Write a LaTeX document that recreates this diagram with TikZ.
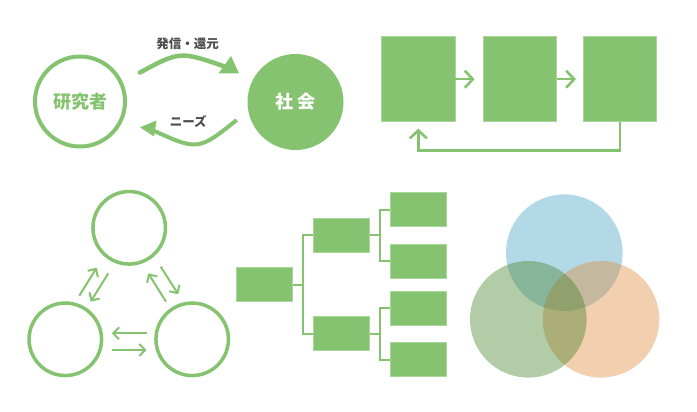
\documentclass[tikz,border=0pt]{standalone}
\usepackage{fontspec}
\newfontfamily\jp{Noto Sans CJK JP}
\usetikzlibrary{arrows.meta}
\definecolor{gr}{HTML}{86C371}
\definecolor{grl}{HTML}{A9D69A}
\definecolor{txt}{HTML}{4D4D4D}
\definecolor{vblue}{RGB}{65,160,192}
\definecolor{vorange}{RGB}{222,135,52}
\definecolor{vgreen}{RGB}{65,127,37}
\tikzset{
  bigbox/.style={fill=gr, draw=grl, line width=0.8pt, inner sep=0pt, minimum width=73.3pt, minimum height=85pt},
  treebox/.style={fill=gr, draw=grl, line width=0.8pt, inner sep=0pt, minimum width=56pt, minimum height=34pt},
  flow/.style={draw=gr, line width=2.6pt, -{Straight Barb[length=8pt, width=17pt]}},
  thinflow/.style={draw=gr, line width=2pt, -{Straight Barb[length=6pt, width=12pt]}},
  treeline/.style={draw=gr, line width=2pt},
  ring/.style={circle, draw=gr, line width=3.5pt, minimum size=72.5pt, inner sep=0pt},
  venn/.style={circle, fill opacity=0.4, minimum size=116.6pt, inner sep=0pt},
  lbl/.style={text=txt, font=\jp\bfseries\fontsize{12.5}{14}\selectfont},
  curve/.style={draw=gr, line width=4.5pt}
}
\begin{document}
\begin{tikzpicture}[x=1pt,y=-1pt]
\useasboundingbox (0,0) rectangle (697,412);
% top-left
\node[circle, draw=gr, line width=4pt, minimum size=90pt, inner sep=0pt, text=gr,
  font=\jp\bfseries\fontsize{18}{18}\selectfont] (res) at (80,101.5) {研究者};
\node[circle, fill=gr, minimum size=96pt, inner sep=0pt, text=white,
  font=\jp\bfseries\fontsize{18}{18}\selectfont] (soc) at (295.5,102) {社\hspace{5pt}会};
\coordinate (a1s) at (140,72.5);
\coordinate (a1e) at (226,67);
\draw[curve, line cap=round] (a1s) .. controls (180,51) .. (a1e);
\fill[gr] (218.5,73.5) -- (231,56) -- (239,73.5) -- cycle;
\coordinate (a2s) at (236.7,120);
\coordinate (a2e) at (150,129);
\draw[curve, line width=4pt] (a2s) .. controls (198,151) .. (a2e);
\fill[gr] (140,127.3) -- (156.5,120.5) -- (154,136.5) -- cycle;
\node[lbl] (l1) at (187.5,44) {発信・還元};
\node[lbl] (l2) at (188.3,121.3) {ニーズ};
% top-right
\node[bigbox] (b1) at (418.35,79.2) {};
\node[bigbox] (b2) at (519.65,79.2) {};
\node[bigbox] (b3) at (620,79.2) {};
\draw[flow, shorten >=8pt] (b1.east) -- (b2.west);
\draw[flow, shorten >=7pt] (b2.east) -- (b3.west);
\draw[flow, shorten >=6.5pt] (b3.south) -- ++(0,28.3) -| (b1.south);
% bottom-left
\node[ring] (c1) at (129.2,227.8) {};
\node[ring] (c2) at (65.3,339.3) {};
\node[ring] (c3) at (192.2,339.3) {};
\coordinate (pa1) at (79.3,295.7);  \coordinate (pa2) at (96.7,267.7);
\coordinate (pb1) at (108.3,273.3); \coordinate (pb2) at (90.7,301.7);
\coordinate (pc1) at (160.7,266.7); \coordinate (pc2) at (178.3,294.3);
\coordinate (pd1) at (166,301.7);   \coordinate (pd2) at (148.3,273.3);
\coordinate (pe1) at (146.7,333.3); \coordinate (pe2) at (111.7,333.3);
\coordinate (pf1) at (111.7,350);   \coordinate (pf2) at (146.7,350);
\draw[thinflow] (pa1) -- (pa2);
\draw[thinflow] (pb1) -- (pb2);
\draw[thinflow] (pc1) -- (pc2);
\draw[thinflow] (pd1) -- (pd2);
\draw[thinflow] (pe1) -- (pe2);
\draw[thinflow] (pf1) -- (pf2);
% tree
\node[treebox, minimum height=34.4pt] (root) at (264.7,284.5) {};
\node[treebox] (m1) at (341.3,235.3) {};
\node[treebox] (m2) at (341.3,333.7) {};
\node[treebox] (t1) at (418.7,209.5) {};
\node[treebox] (t2) at (418.7,261.3) {};
\node[treebox] (t3) at (418.7,308) {};
\node[treebox] (t4) at (418.7,359.5) {};
\draw[treeline] (root.east) -- ++(10,0) |- (m1.west);
\draw[treeline] (root.east) -- ++(10,0) |- (m2.west);
\draw[treeline] (m1.east) -- ++(10.7,0) |- (t1.west);
\draw[treeline] (m1.east) -- ++(10.7,0) |- (t2.west);
\draw[treeline] (m2.east) -- ++(10.7,0) |- (t3.west);
\draw[treeline] (m2.east) -- ++(10.7,0) |- (t4.west);
% venn
\node[venn, fill=vblue] (v1) at (564.3,252.7) {};
\node[venn, fill=vorange] (v2) at (601,319.3) {};
\node[venn, fill=vgreen] (v3) at (528.3,319.3) {};
\end{tikzpicture}
\end{document}
